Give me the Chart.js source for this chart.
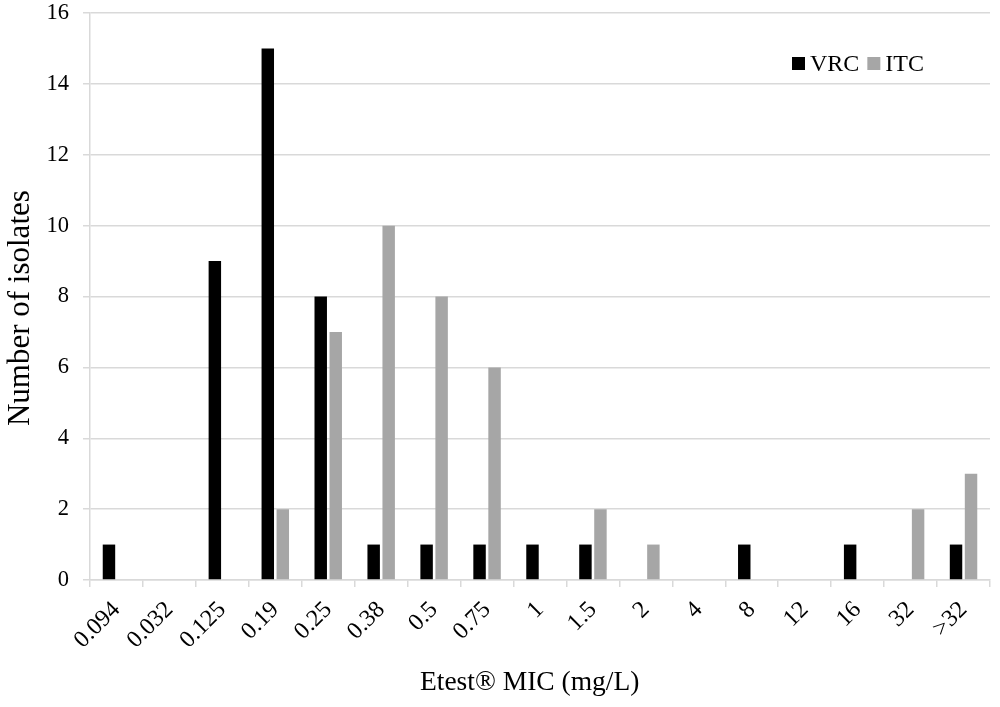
<!DOCTYPE html>
<html>
<head>
<meta charset="utf-8">
<script src="https://cdn.jsdelivr.net/npm/chart.js@4/dist/chart.umd.min.js"></script>
<style>
  html, body { margin: 0; padding: 0; background: #fff; }
  #wrap { width: 1000px; height: 707px; }
</style>
</head>
<body>
<div id="wrap"><canvas id="c" width="1000" height="707"></canvas></div>
<script>
const categories = ["0.094", "0.032", "0.125", "0.19", "0.25", "0.38", "0.5", "0.75", "1", "1.5", "2", "4", "8", "12", "16", "32", ">32"];
const vrcValues = [1, 0, 9, 15, 8, 1, 1, 1, 1, 1, 0, 0, 1, 0, 1, 0, 1];
const itcValues = [0, 0, 0, 2, 7, 10, 8, 6, 0, 2, 1, 0, 0, 0, 0, 2, 3];
const yTicks = [0, 2, 4, 6, 8, 10, 12, 14, 16];
const seriesNames = ["VRC", "ITC"];

const SERIF = "'Liberation Serif', 'DejaVu Serif', serif";
const GRID = '#d9d9d9';

const legendPlugin = {
  id: 'inlineLegend',
  afterDraw(chart) {
    const ctx = chart.ctx;
    ctx.save();
    ctx.font = '24px ' + SERIF;
    ctx.textBaseline = 'middle';
    ctx.textAlign = 'left';
    let x = 792;
    const y = 63.5;
    chart.data.datasets.forEach((ds) => {
      ctx.fillStyle = ds.backgroundColor;
      ctx.fillRect(x, y - 6.5, 13, 13);
      x += 18;
      ctx.fillStyle = '#000';
      ctx.fillText(ds.label, x, y + 1);
      x += ctx.measureText(ds.label).width + 8;
    });
    ctx.restore();
  }
};

new Chart(document.getElementById('c'), {
  type: 'bar',
  data: {
    labels: categories,
    datasets: [
      { label: seriesNames[0], data: vrcValues, backgroundColor: '#000000', categoryPercentage: 0.567, barPercentage: 0.83 },
      { label: seriesNames[1], data: itcValues, backgroundColor: '#a6a6a6', categoryPercentage: 0.567, barPercentage: 0.83 }
    ]
  },
  options: {
    responsive: false,
    animation: false,
    layout: { padding: { left: 0, right: 10, top: 0, bottom: 0 } },
    plugins: {
      legend: { display: false },
      tooltip: { enabled: false }
    },
    scales: {
      x: {
        grid: { offset: true, drawOnChartArea: false, drawTicks: true, tickLength: 7, color: GRID, lineWidth: 1.5 },
        border: { display: true, color: GRID, width: 1.5 },
        ticks: {
          autoSkip: false, maxRotation: 45, minRotation: 45, padding: 9,
          color: '#000', font: { family: SERIF, size: 24 }
        },
        title: {
          display: true, text: 'Etest® MIC (mg/L)   ', color: '#000',
          font: { family: SERIF, size: 27.5 }, padding: { top: 0, bottom: 8 }
        },
        afterFit(scale) { scale.height = 127; }
      },
      y: {
        min: 0, max: 16,
        afterBuildTicks(scale) { scale.ticks = yTicks.map(v => ({ value: v })); },
        grid: { color: GRID, lineWidth: 1.5, tickLength: 7, drawTicks: true },
        border: { display: true, color: GRID, width: 1.5 },
        ticks: {
          padding: 14, color: '#000', font: { family: SERIF, size: 22.5 }
        },
        title: {
          display: true, text: 'Number of isolates   ', color: '#000',
          font: { family: SERIF, size: 31 }, padding: { top: 2, bottom: 0 }
        },
        afterFit(scale) { scale.width = 90; scale.paddingTop = 13; }
      }
    }
  },
  plugins: [legendPlugin]
});
</script>
</body>
</html>
